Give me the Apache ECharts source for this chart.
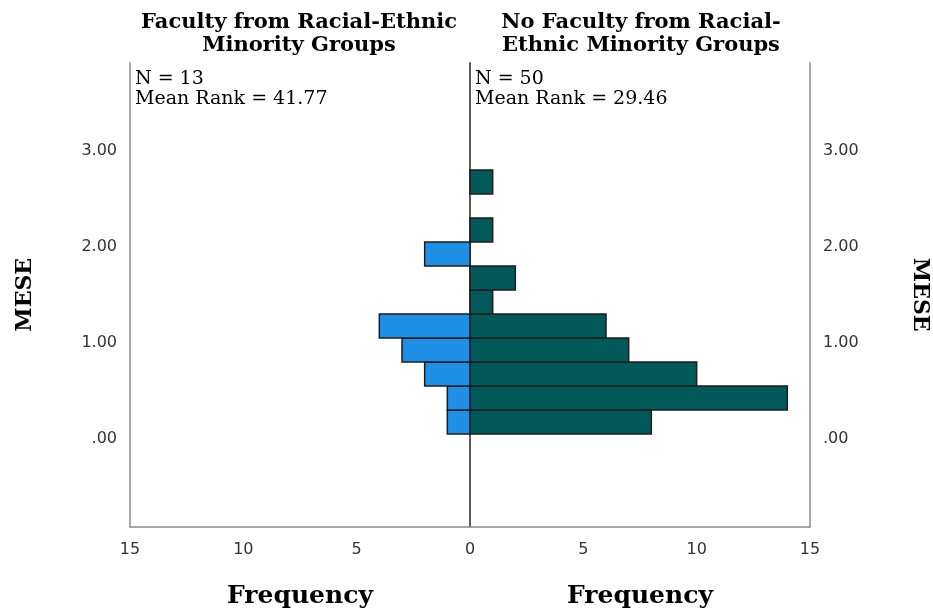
<!DOCTYPE html>
<html>
<head>
<meta charset="utf-8">
<script src="https://cdn.jsdelivr.net/npm/echarts@6/dist/echarts.min.js"></script>
<style>
  html, body { margin: 0; padding: 0; background: #fff; }
  #chart { width: 933px; height: 609px; }
</style>
</head>
<body>
<div id="chart"></div>
<script>
// MESE histogram bins (lower edges) and their width
const binStarts = [0.00, 0.25, 0.50, 0.75, 1.00, 1.25, 1.50, 1.75, 2.00, 2.25, 2.50];
const binWidth = 0.25;
// Frequencies per bin for each group
const minorityCounts = [1, 1, 2, 3, 4, 0, 0, 2, 0, 0, 0];
const nonMinorityCounts = [8, 14, 10, 7, 6, 1, 2, 0, 1, 0, 1];
// Axis ticks
const yTicks = [0, 1, 2, 3];
const freqMax = 15;
const freqStep = 5;
// Panel texts
const groupTitles = ['Faculty from Racial-Ethnic\nMinority Groups', 'No Faculty from Racial-\nEthnic Minority Groups'];
const groupN = [13, 50];
const groupMeanRank = ['41.77', '29.46'];

const yMin = -0.964, yMax = 3.865;
const serif = '"DejaVu Serif", "Liberation Serif", serif';
const sans = '"DejaVu Sans", "Liberation Sans", sans-serif';

function binData(counts) {
  return binStarts
    .map((s, i) => [s, s + binWidth, counts[i]])
    .filter(d => d[2] > 0);
}

function histRect(params, api) {
  const lo = api.value(0), hi = api.value(1), n = api.value(2);
  const a = api.coord([0, lo]);
  const b = api.coord([n, hi]);
  return {
    type: 'rect',
    shape: {
      x: Math.min(a[0], b[0]),
      y: Math.min(a[1], b[1]),
      width: Math.abs(b[0] - a[0]),
      height: Math.abs(b[1] - a[1])
    },
    style: api.style({ stroke: '#1c1c1c', lineWidth: 1.5 })
  };
}

const yLabelFmt = v => (v === 0 ? '.00' : v.toFixed(2));

function freqAxis(gridIndex, inverse) {
  return {
    gridIndex, type: 'value', min: 0, max: freqMax, interval: freqStep, inverse,
    axisLine: { show: true, onZero: false, lineStyle: { color: '#8a8a8a', width: 1.5 } },
    axisTick: { show: false },
    splitLine: { show: false },
    axisLabel: { margin: 15, color: '#333', fontFamily: sans, fontSize: 16, showMinLabel: inverse },
    name: 'Frequency', nameLocation: 'middle', nameGap: 57,
    nameTextStyle: { fontFamily: serif, fontWeight: 'bold', fontSize: 25, color: '#000' }
  };
}

function valueAxis(gridIndex, position, showLabels, lineColor, name, nameRotate, nameGap) {
  return {
    gridIndex, type: 'value', position, min: yMin, max: yMax,
    axisLine: { show: true, onZero: false, lineStyle: { color: lineColor, width: 2 } },
    axisTick: { show: false },
    splitLine: { show: false },
    axisLabel: {
      show: showLabels, customValues: yTicks, formatter: yLabelFmt,
      margin: 13, color: '#333', fontFamily: sans, fontSize: 16,
      verticalAlign: 'top', lineHeight: 9
    },
    name, nameLocation: 'middle', nameRotate, nameGap,
    nameTextStyle: { fontFamily: serif, fontWeight: 'bold', fontSize: 22, color: '#000' }
  };
}

const chart = echarts.init(document.getElementById('chart'), null, { renderer: 'canvas' });

chart.setOption({
  animation: false,
  backgroundColor: '#fff',
  grid: [
    { left: 130, width: 340, top: 63, bottom: 82.5, outerBoundsMode: 'none', containLabel: false },
    { left: 470, width: 340, top: 63, bottom: 82.5, outerBoundsMode: 'none', containLabel: false }
  ],
  xAxis: [freqAxis(0, true), freqAxis(1, false)],
  yAxis: [
    valueAxis(0, 'left', true, '#a8a8a8', 'MESE', 90, 94),
    valueAxis(1, 'right', true, '#a8a8a8', 'MESE', -90, 99),
    valueAxis(1, 'left', false, '#5c5c5c', '', 0, 0)
  ],
  series: [
    {
      type: 'custom', xAxisIndex: 0, yAxisIndex: 0,
      encode: { x: 2, y: [0, 1] },
      itemStyle: { color: '#1f90e6' },
      renderItem: histRect,
      data: binData(minorityCounts)
    },
    {
      type: 'custom', xAxisIndex: 1, yAxisIndex: 2,
      encode: { x: 2, y: [0, 1] },
      itemStyle: { color: '#02595a' },
      renderItem: histRect,
      data: binData(nonMinorityCounts)
    }
  ],
  graphic: [0, 1].map(i => [
    {
      type: 'text', x: i === 0 ? 299 : 641, y: 11,
      style: {
        text: groupTitles[i], textAlign: 'center',
        font: 'bold 21px ' + serif, lineHeight: 23, fill: '#000'
      }
    },
    {
      type: 'text', x: i === 0 ? 135 : 475, y: 69,
      style: {
        text: 'N = ' + groupN[i] + '\nMean Rank = ' + groupMeanRank[i],
        font: '19px ' + serif, lineHeight: 20, fill: '#000'
      }
    }
  ]).flat()
});
</script>
</body>
</html>
